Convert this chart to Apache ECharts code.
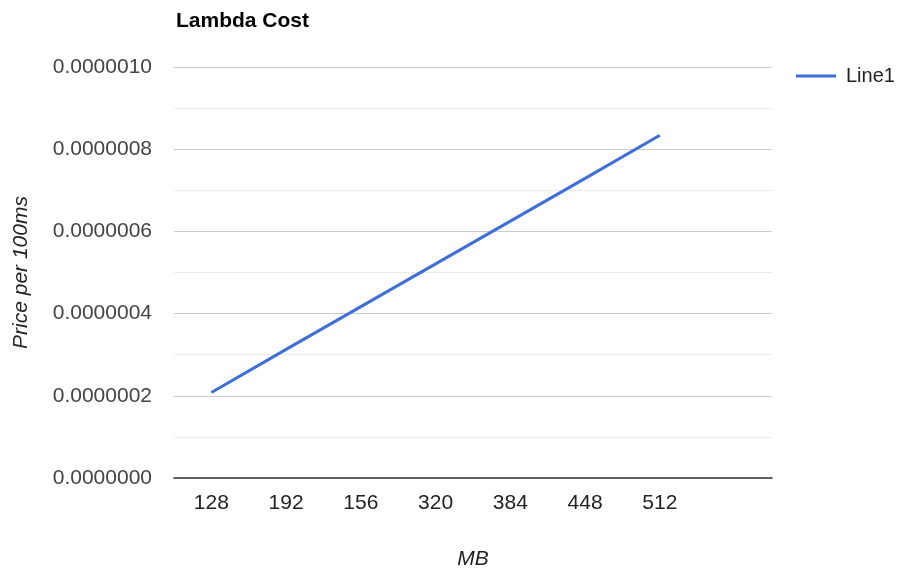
<!DOCTYPE html>
<html><head><meta charset="utf-8">
<script src="https://cdn.jsdelivr.net/npm/echarts@6/dist/echarts.min.js"></script>
<style>html,body{margin:0;padding:0;background:#fff}#c{width:901px;height:569px}</style>
</head><body><div id="c"></div>
<script>
const categories = ['128', '192', '156', '320', '384', '448', '512', ''];
const line1 = [0.000000208, 0.000000313, 0.000000417, 0.000000521, 0.000000625, 0.000000729, 0.000000834, null];
const yMin = 0, yMax = 0.000001, yStep = 0.0000002;

const font = 'Arial, "Liberation Sans", sans-serif';
const chart = echarts.init(document.getElementById('c'));
chart.setOption({
  animation: false,
  textStyle: { fontFamily: font },
  title: {
    text: 'Lambda Cost', left: 171, top: 6,
    textStyle: { fontFamily: font, fontSize: 21, fontWeight: 'bold', color: '#000' }
  },
  legend: {
    left: 796, top: 66, itemWidth: 40, itemHeight: 3, itemGap: 10, padding: 0,
    icon: 'rect',
    textStyle: { fontFamily: font, fontSize: 20, color: '#222', padding: [0, 0, 0, 5] },
    data: ['Line1']
  },
  grid: { left: 174, right: 129, top: 67, bottom: 91, outerBoundsMode: 'none', containLabel: false },
  xAxis: {
    type: 'category', data: categories, boundaryGap: true,
    axisLine: { lineStyle: { color: '#333', width: 1.5 } },
    axisTick: { show: false },
    axisLabel: { color: '#222', fontSize: 21, margin: 15, fontFamily: font, interval: 0 },
    name: 'MB', nameLocation: 'middle', nameGap: 71,
    nameTextStyle: { fontStyle: 'italic', color: '#222', fontSize: 21, fontFamily: font }
  },
  yAxis: {
    type: 'value', min: yMin, max: yMax, interval: yStep,
    axisLine: { show: false }, axisTick: { show: false },
    axisLabel: { color: '#444', fontSize: 21, margin: 22, fontFamily: font,
      formatter: v => v.toFixed(7) },
    splitLine: { lineStyle: { color: '#cccccc' } },
    minorTick: { show: false, splitNumber: 2 },
    minorSplitLine: { show: true, lineStyle: { color: '#ebebeb' } },
    name: 'Price per 100ms', nameLocation: 'middle', nameGap: 142,
    nameTextStyle: { fontStyle: 'italic', color: '#222', fontSize: 21, fontFamily: font }
  },
  series: [{
    name: 'Line1', type: 'line', data: line1, showSymbol: false,
    lineStyle: { color: '#3d6fd6', width: 3 }, itemStyle: { color: '#3d6fd6' }
  }]
});
</script></body></html>
